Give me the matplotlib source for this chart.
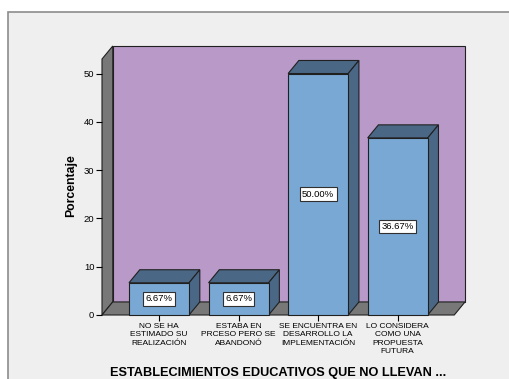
import matplotlib.pyplot as plt
from matplotlib.patches import Polygon, Rectangle

plt.rcParams['font.family'] = ['Liberation Sans', 'DejaVu Sans']

categorias = ['NO SE HA\nESTIMADO SU\nREALIZACIÓN',
              'ESTABA EN\nPRCESO PERO SE\nABANDONÓ',
              'SE ENCUENTRA EN\nDESARROLLO LA\nIMPLEMENTACIÓN',
              'LO CONSIDERA\nCOMO UNA\nPROPUESTA\nFUTURA']
porcentajes = [6.67, 6.67, 50.00, 36.67]
etiquetas = ['6.67%', '6.67%', '50.00%', '36.67%']
yticks = [0, 10, 20, 30, 40, 50]

# 3d look: depth offset in data units
dx, dy = 0.135, 2.7
ancho = 0.755
x0, x1 = -0.717, 3.711
ytop = 53.0

col_pared = '#b899c8'
col_gris = '#787878'
col_frente = '#7aa8d4'
col_lado = '#4a6886'
col_borde = '#202020'

fig = plt.figure(figsize=(5.1, 3.79), dpi=100)
fig.patch.set_facecolor('white')
fig.patches.append(Rectangle((8 / 510, -0.05), 1.2, 1 - 12 / 379 + 0.05,
                             transform=fig.transFigure, facecolor='#efefef',
                             edgecolor='#8c8c8c', lw=1.2, zorder=-10))

ax = fig.add_axes([102 / 510, 64 / 379, 363 / 510, 269 / 379])
ax.set_facecolor('none')
ax.set_xlim(x0, x1 + dx)
ax.set_ylim(0, ytop + dy)
for s in ax.spines.values():
    s.set_visible(False)

kw = dict(edgecolor=col_borde, lw=0.8, joinstyle='miter', clip_on=False)
# back wall, left wall, floor
ax.add_patch(Polygon([(x0 + dx, dy), (x1 + dx, dy), (x1 + dx, ytop + dy),
                      (x0 + dx, ytop + dy)], facecolor=col_pared, **kw))
ax.add_patch(Polygon([(x0, 0), (x0 + dx, dy), (x0 + dx, ytop + dy),
                      (x0, ytop)], facecolor=col_gris, **kw))
ax.add_patch(Polygon([(x0, 0), (x1, 0), (x1 + dx, dy), (x0 + dx, dy)],
                     facecolor=col_gris, **kw))

for i, v in enumerate(porcentajes):
    a, b = i - ancho / 2, i + ancho / 2
    ax.add_patch(Polygon([(a, v), (b, v), (b + dx, v + dy), (a + dx, v + dy)],
                         facecolor=col_lado, **kw))
    ax.add_patch(Polygon([(b, 0), (b + dx, dy), (b + dx, v + dy), (b, v)],
                         facecolor=col_lado, **kw))
    ax.add_patch(Rectangle((a, 0), ancho, v, facecolor=col_frente, **kw))
    ax.text(i, v / 2, etiquetas[i], ha='center', va='center', fontsize=6.8,
            bbox=dict(boxstyle='square,pad=0.25', facecolor='white',
                      edgecolor='#303030', lw=0.8))

ax.set_yticks(yticks)
ax.set_yticklabels([str(t) for t in yticks])
ax.set_xticks(range(len(categorias)))
ax.set_xticklabels(categorias, fontsize=6.0, linespacing=1.3)
ax.tick_params(axis='y', length=4.3, width=0.8, pad=1.2, labelsize=6.8)
ax.tick_params(axis='x', length=4, width=0.8, pad=1.5)

ax.set_xlabel('ESTABLECIMIENTOS EDUCATIVOS QUE NO LLEVAN ...',
              fontsize=9.2, fontweight='bold')
ax.xaxis.set_label_coords(0.485, -0.214)
ax.xaxis.label.set_va('center')
ax.set_ylabel('Porcentaje', fontsize=8.8, fontweight='bold')
ax.yaxis.set_label_coords(-0.085, 0.48)
ax.yaxis.label.set_va('center')

fig.savefig('out.png', dpi=100)
